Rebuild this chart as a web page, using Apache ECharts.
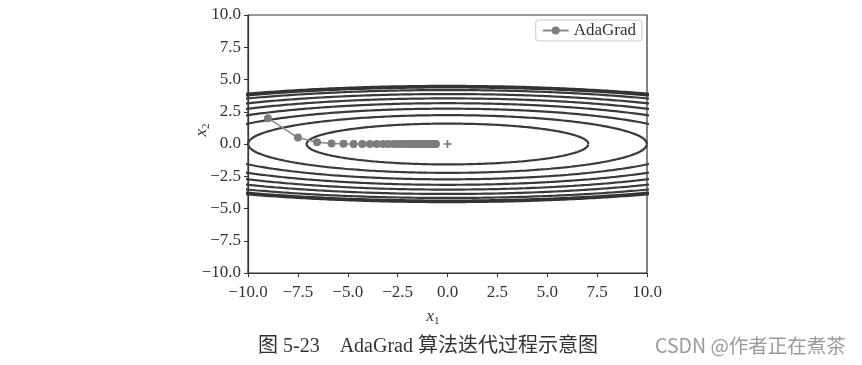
<!DOCTYPE html>
<html>
<head>
<meta charset="utf-8">
<script src="https://cdn.jsdelivr.net/npm/echarts@6/dist/echarts.min.js"></script>
<style>
html,body{margin:0;padding:0;background:#fff;}
#chart{width:862px;height:365px;}
</style>
</head>
<body>
<div id="chart"></div>
<script>
// ---- data ----
const xTicks = [-10, -7.5, -5, -2.5, 0, 2.5, 5, 7.5, 10];
const yTicks = [-10, -7.5, -5, -2.5, 0, 2.5, 5, 7.5, 10];
// contour levels of f(x1,x2) = x1^2/20 + x2^2
const contourLevels = [2.5, 5, 7.5, 10, 12.5, 15, 17.5];
const boundaryLevels = [19.5, 20];
// AdaGrad path
const pathX = [-9.0, -7.5, -6.54, -5.81, -5.21, -4.71, -4.27, -3.89, -3.55, -3.25, -2.98,
  -2.73, -2.51, -2.30, -2.12, -1.95, -1.79, -1.65, -1.52, -1.40, -1.29,
  -1.19, -1.10, -1.01, -0.93, -0.86, -0.79, -0.73, -0.68, -0.62, -0.58];
const pathY = [2.0, 0.5, 0.136, 0.037, 0.010, 0.003, 0.001, 0, 0, 0, 0,
  0, 0, 0, 0, 0, 0, 0, 0, 0, 0,
  0, 0, 0, 0, 0, 0, 0, 0, 0, 0];
const minimum = [[0, 0]];
const seriesName = 'AdaGrad';
const caption = '图 5-23\u3000AdaGrad 算法迭代过程示意图';
const watermark = 'CSDN @作者正在煮茶';

function ellipse(L) {
  const pts = [];
  const a = Math.sqrt(20 * L), b = Math.sqrt(L);
  const n = 720;
  for (let i = 0; i <= n; i++) {
    const t = 2 * Math.PI * i / n;
    pts.push([a * Math.cos(t), b * Math.sin(t)]);
  }
  return pts;
}
function fmt(v) {
  return v.toFixed(1).replace('-', '\u2212');
}

const serif = '"Liberation Serif", "Times New Roman", serif';
const series = [];
contourLevels.forEach(L => {
  series.push({
    type: 'line', data: ellipse(L), symbol: 'none', silent: true, clip: true,
    lineStyle: {color: '#3a3a3a', width: 2.2}, z: 2
  });
});
boundaryLevels.forEach(L => {
  series.push({
    type: 'line', data: ellipse(L), symbol: 'none', silent: true, clip: true,
    lineStyle: {color: '#333', width: 3}, z: 2
  });
});
series.push({
  name: seriesName, type: 'line',
  data: pathX.map((x, i) => [x, pathY[i]]),
  symbol: 'circle', symbolSize: 8,
  itemStyle: {color: '#7d7d7d'},
  lineStyle: {color: '#8a8a8a', width: 1.6}, z: 5
});
series.push({
  type: 'scatter', data: minimum, silent: true,
  symbol: 'path://M4,0h2v4h4v2h-4v4h-2v-4h-4v-2h4z', symbolSize: 8,
  itemStyle: {color: '#555'}, z: 6
});

const axisCommon = {
  type: 'value', min: -10, max: 10, interval: 2.5,
  axisLine: {show: true, onZero: false, lineStyle: {color: '#333', width: 1.2}},
  axisTick: {show: true, length: 4, lineStyle: {color: '#333'}},
  splitLine: {show: false},
  axisLabel: {formatter: fmt, color: '#333', fontFamily: serif, fontSize: 17, margin: 7}
};

const chart = echarts.init(document.getElementById('chart'));
chart.setOption({
  animation: false,
  backgroundColor: '#fff',
  grid: {left: 248, right: 215, top: 15, height: 258, show: true, borderColor: '#333', borderWidth: 1.2},
  xAxis: Object.assign({}, axisCommon, {axisLabel: Object.assign({}, axisCommon.axisLabel, {margin: 11})}),
  yAxis: Object.assign({}, axisCommon),
  legend: {
    data: [seriesName], right: 220, top: 20,
    itemWidth: 26, itemHeight: 10, padding: [2, 6, 2, 6],
    borderColor: '#ccc', borderWidth: 1, borderRadius: 3,
    textStyle: {fontFamily: serif, fontSize: 17, color: '#333'}
  },
  graphic: [
    {type: 'text', x: 433, y: 317, style: {
      text: '{i|x}{s|1}', align: 'center', verticalAlign: 'middle',
      rich: {i: {fontFamily: serif, fontStyle: 'italic', fontSize: 17, fill: '#333'},
             s: {fontFamily: serif, fontSize: 11, fill: '#333', padding: [8, 0, 0, 0]}}
    }},
    {type: 'text', x: 202, y: 130, rotation: Math.PI / 2, style: {
      text: '{i|x}{s|2}', align: 'center', verticalAlign: 'middle',
      rich: {i: {fontFamily: serif, fontStyle: 'italic', fontSize: 17, fill: '#333'},
             s: {fontFamily: serif, fontSize: 11, fill: '#333', padding: [8, 0, 0, 0]}}
    }},
    {type: 'text', x: 258, y: 347, style: {
      text: caption, fontFamily: '"Liberation Serif", "Noto Sans CJK SC", serif', fontSize: 20, fill: '#333',
      verticalAlign: 'middle'
    }},
    {type: 'text', x: 655, y: 346, style: {
      text: watermark, fontFamily: '"Noto Sans CJK SC", sans-serif', fontSize: 19.5, fill: '#9a9a9a',
      verticalAlign: 'middle'
    }}
  ],
  series: series
});
</script>
</body>
</html>
